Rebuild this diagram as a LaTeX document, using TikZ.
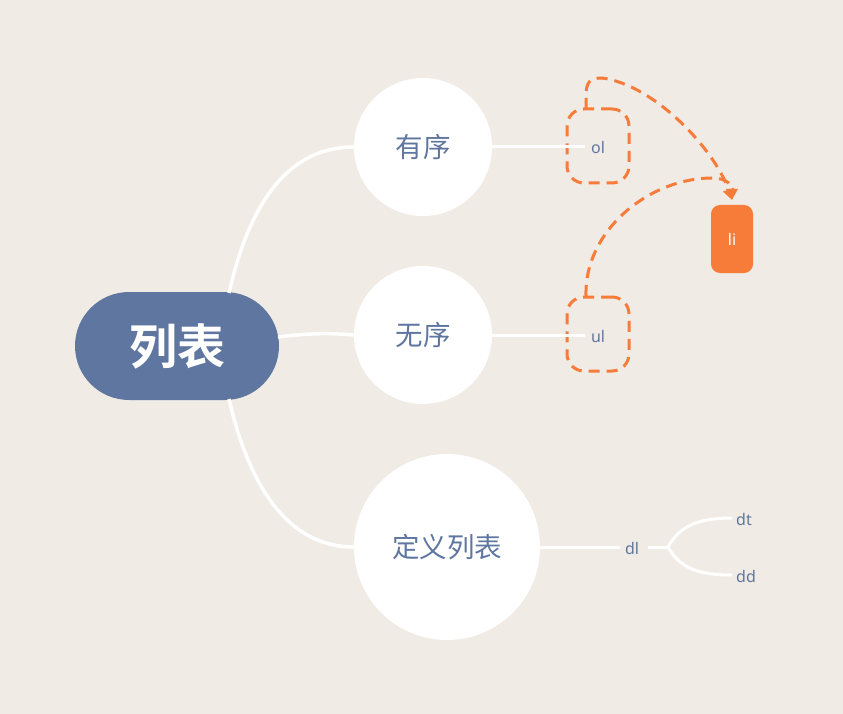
\documentclass[tikz,border=0pt]{standalone}
\usepackage{fontspec}
\newfontfamily\cjk{Noto Sans CJK SC}
\newfontfamily\cjkb{Noto Sans CJK SC Bold}
\setmainfont{Noto Sans}
\usetikzlibrary{arrows.meta,shapes.misc}
\definecolor{bg}{HTML}{F0EBE5}
\definecolor{blu}{HTML}{5F77A0}
\definecolor{org}{HTML}{F77B39}
\tikzset{
  conn/.style={draw=white,line width=3.5pt},
  thin/.style={draw=white,line width=3pt},
  topic/.style={circle,fill=white,inner sep=0pt,text=blu,font=\cjk\fontsize{27.5}{27.5}\selectfont},
  tagbox/.style={draw=org,dash pattern=on 11pt off 7pt,line width=3pt,rounded corners=17pt,minimum width=62pt,minimum height=74pt,inner sep=0pt},
  small/.style={text=blu,font=\fontsize{16}{16}\selectfont,inner sep=1pt},
  darr/.style={draw=org,line width=3pt,dash pattern=on 11pt off 7pt,-{Triangle[length=11pt,width=11pt]}},
}
\begin{document}
\begin{tikzpicture}[x=1pt,y=-1pt]
\fill[bg] (0,0) rectangle (843,714);
\useasboundingbox (0,0) rectangle (843,714);
% topics
\node[topic,minimum size=138pt] (t1) at (423,147) {有序};
\node[topic,minimum size=138pt] (t2) at (423,335) {无序};
\node[topic,minimum size=186pt] (t3) at (447,547) {定义列表};
% root
\node[rounded rectangle,fill=blu,minimum width=204pt,minimum height=108pt,inner sep=0pt,text=white,font=\cjkb\fontsize{48}{48}\selectfont] (root) at (177,346) {列表};
\coordinate (rt) at (229,293);
\coordinate (rb) at (229,399);
\coordinate (rm) at (278,337);
% root connectors
\draw[conn] (rt) .. controls (250,200) and (290,147) .. (t1.west);
\draw[conn] (rm) .. controls (310,333) and (330,333) .. (t2.west);
\draw[conn] (rb) .. controls (250,490) and (290,547) .. (t3.west);
% ol / ul
\node[tagbox] (olb) at (598,146) {};
\node[tagbox] (ulb) at (598,334) {};
\node[small] (ol) at (598,148) {ol};
\node[small] (ul) at (598,336) {ul};
\coordinate (olin) at (585,147);
\coordinate (ulin) at (585,335);
\draw[thin] (t1.east) -- (olin);
\draw[thin] (t2.east) -- (ulin);
% li
\node[fill=org,rounded corners=9pt,minimum width=42pt,minimum height=68pt,inner sep=0pt,text=white,font=\fontsize{16}{16}\selectfont] (li) at (732,239) {li};
\coordinate (lin) at (732,200);
\coordinate (ols) at (586,109);
\coordinate (uls) at (586,296);
\draw[darr] (ols) -- (586,96) .. controls (586,82) and (590,78) .. (602,78)
  .. controls (655,85) and (715,150) .. (lin);
\draw[darr] (uls) .. controls (584,230) and (650,178) .. (712,178)
  .. controls (728,178) and (732,186) .. (lin);
% dl
\node[small] (dl) at (632,548) {dl};
\node[small,anchor=west] (dt) at (735,519) {dt};
\node[small,anchor=west] (dd) at (735,576) {dd};
\coordinate (dlw) at (620,547);
\coordinate (dle) at (648,547);
\coordinate (br) at (668,547);
\coordinate (dtw) at (732,518);
\coordinate (ddw) at (732,575);
\draw[thin] (t3.east) -- (dlw);
\draw[thin] (dle) -- (br);
\draw[thin] (br) .. controls (680,525) and (700,518) .. (dtw);
\draw[thin] (br) .. controls (680,569) and (700,575) .. (ddw);
\end{tikzpicture}
\end{document}
